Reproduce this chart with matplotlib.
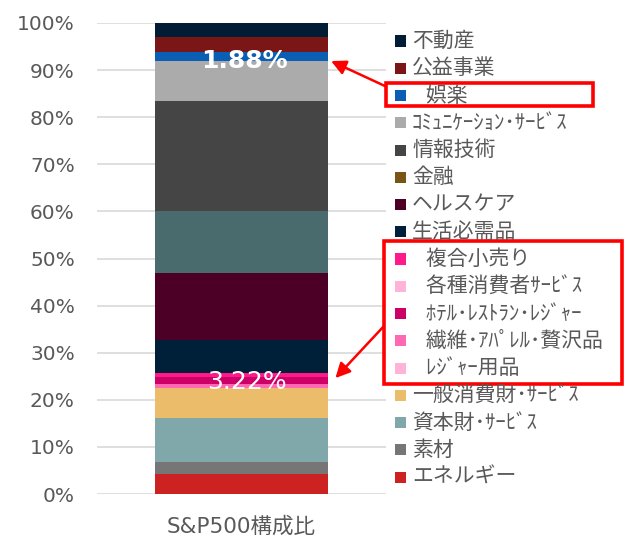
import numpy as np
import matplotlib
matplotlib.use("Agg")
import matplotlib.pyplot as plt
from matplotlib.patches import Rectangle

plt.rcParams["font.family"] = ["DejaVu Sans", "Noto Sans CJK JP"]

# stack order, bottom to top
SECTORS = [
    "エネルギー", "素材", "資本財･ｻｰﾋﾞｽ", "一般消費財･ｻｰﾋﾞｽ",
    "   ﾚｼﾞｬｰ用品", "   繊維･ｱﾊﾟﾚﾙ･贅沢品", "   ﾎﾃﾙ･ﾚｽﾄﾗﾝ･ﾚｼﾞｬｰ", "   各種消費者ｻｰﾋﾞｽ", "   複合小売り",
    "生活必需品", "ヘルスケア", "金融", "情報技術", "ｺﾐｭﾆｹｰｼｮﾝ･ｻｰﾋﾞｽ", "   娯楽", "公益事業", "不動産",
]
WEIGHTS = [4.2, 2.5, 9.4, 6.3,
           0.05, 0.85, 1.5, 0.07, 0.75,
           7.1, 14.1, 13.2, 23.4, 8.5, 1.88, 3.3, 2.9]
CATEGORY = "S&P500構成比"
PINK_GROUP = [4, 5, 6, 7, 8]
PINK_TOTAL = "3.22%"
ENT_IDX = 14
ENT_LABEL = "1.88%"

BAR_COLORS = ["#cc2222", "#767676", "#80a8aa", "#ebbd6b",
              "#ffb3d9", "#ff69b4", "#cc0066", "#ffb3d9", "#ff1a8c",
              "#001f38", "#4d0026", "#4a6b6e", "#454545", "#ababab", "#0a5fb4", "#7a1616", "#001d35"]
LEGEND_COLORS = BAR_COLORS.copy()
LEGEND_COLORS[11] = "#7a5416"

W, H = 627, 537
fig = plt.figure(figsize=(W / 100, H / 100), dpi=100)


def px(x, y):
    return x / W, 1 - y / H


ax = fig.add_axes([97 / W, 43 / H, 289 / W, 471 / H])
bottoms = np.concatenate([[0], np.cumsum(WEIGHTS)[:-1]])
for w, b, c in zip(WEIGHTS, bottoms, BAR_COLORS):
    ax.bar(0, w, bottom=b, width=0.6, color=c, linewidth=0, zorder=2)

ax.set_xlim(-0.5, 0.5)
ax.set_ylim(0, 100)
ax.set_yticks(np.arange(0, 101, 10))
ax.set_yticklabels([f"{v}%" for v in range(0, 101, 10)])
ax.set_xticks([0])
ax.set_xticklabels([CATEGORY])
ax.tick_params(axis="y", length=0, pad=16, labelsize=14.5, labelcolor="#595959")
ax.tick_params(axis="x", length=0, pad=16, labelsize=15.5, labelcolor="#595959")
ax.grid(axis="y", color="#d9d9d9", linewidth=1.2, zorder=0)
for s in ax.spines.values():
    s.set_visible(False)

# value labels
ent_y = bottoms[ENT_IDX] + WEIGHTS[ENT_IDX] / 2 - 1.0
ax.text(0.01, ent_y, ENT_LABEL, ha="center", va="center", color="white",
        fontsize=18, fontweight="bold", zorder=3)
pink_lo = bottoms[PINK_GROUP[0]]
pink_hi = bottoms[PINK_GROUP[-1]] + WEIGHTS[PINK_GROUP[-1]]
pink_y = (pink_lo + pink_hi) / 2
ax.text(0.02, pink_y - 0.3, PINK_TOTAL, ha="center", va="center", color="white",
        fontsize=18, zorder=3)

# legend, top to bottom
row0, step = 41, 27.25
n = len(SECTORS)
for i in range(n):
    k = n - 1 - i
    y = row0 + i * step
    x0, y0 = px(395, y + 5.5)
    fig.patches.append(Rectangle((x0, y0), 11 / W, 11 / H, transform=fig.transFigure,
                                 color=LEGEND_COLORS[k], linewidth=0))
    tx, ty = px(412, y)
    fig.text(tx, ty, SECTORS[k], ha="left", va="center", fontsize=15, color="#595959",
             family=["Noto Sans CJK JP", "DejaVu Sans"])

# red highlight boxes
def red_box(x1, y1, x2, y2):
    a, b = px(x1, y2)
    fig.patches.append(Rectangle((a, b), (x2 - x1) / W, (y2 - y1) / H, transform=fig.transFigure,
                                 fill=False, edgecolor="#ff0000", linewidth=2.6))

ent_row = row0 + (n - 1 - ENT_IDX) * step
red_box(386, ent_row - 13, 593, ent_row + 10)
grp_top = row0 + (n - 1 - PINK_GROUP[-1]) * step
grp_bot = row0 + (n - 1 - PINK_GROUP[0]) * step
red_box(384, grp_top - 18, 622, grp_bot + 16)

arrow = dict(arrowstyle="-|>", mutation_scale=22, color="#ff0000", lw=1.8, shrinkA=0, shrinkB=0)
ax.annotate("", xy=(0.31, bottoms[ENT_IDX]), xycoords="data",
            xytext=px(386, ent_row - 9), textcoords="figure fraction", arrowprops=arrow)
ax.annotate("", xy=(0.325, pink_y + 0.6), xycoords="data",
            xytext=px(384, grp_top + 67), textcoords="figure fraction", arrowprops=arrow)

fig.savefig("out.png", dpi=100)
